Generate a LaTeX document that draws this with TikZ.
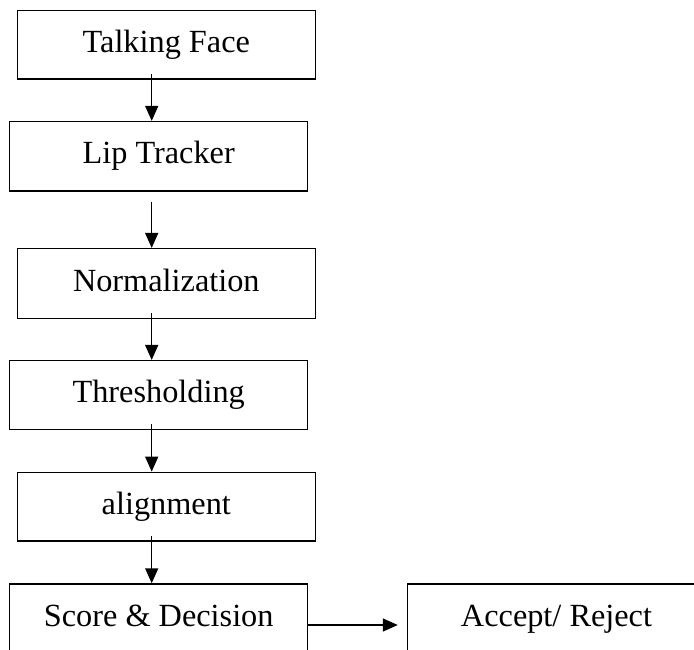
\documentclass[tikz,border=0pt]{standalone}
\usepackage{fontspec}
\setmainfont{Liberation Serif}
\usetikzlibrary{arrows.meta,calc}
\begin{document}
\begin{tikzpicture}[x=1pt,y=-1pt,
  stepbox/.style={draw, line width=1.5pt, minimum width=298pt, inner sep=0pt,
    font=\fontsize{32.3}{38}\selectfont, text height=21.5pt, text depth=6.5pt},
  arr/.style={line width=1.5pt, -{Triangle[length=15pt,width=13pt]}}]
\useasboundingbox (0,0) rectangle (694,650);
\clip (0,0) rectangle (694,650);
\node[stepbox, minimum height=68.3pt] (tf) at (166.3,44.8) {Talking Face};
\node[stepbox, minimum height=69.3pt] (lt) at (158.7,156.3) {Lip Tracker};
\node[stepbox, minimum height=69.6pt] (no) at (166.3,283.5) {Normalization};
\node[stepbox, minimum height=68.6pt] (th) at (158.7,395) {Thresholding};
\node[stepbox, minimum height=68.7pt] (al) at (166.3,506.7) {alignment};
\node[stepbox, minimum height=69pt] (sd) at (158.7,618.5) {Score \& Decision};
\node[stepbox, minimum height=69pt] (ar) at (556.5,618.5) {Accept/ Reject};
\coordinate (ax) at (151.7,0);
\draw[arr, shorten <=-6pt] (tf.south -| ax) -- (lt.north -| ax);
\draw[arr, shorten <=10pt] (lt.south -| ax) -- (no.north -| ax);
\draw[arr, shorten <=-6pt] (no.south -| ax) -- (th.north -| ax);
\draw[arr, shorten <=-6pt] (th.south -| ax) -- (al.north -| ax);
\draw[arr, shorten <=-6pt] (al.south -| ax) -- (sd.north -| ax);
\draw[arr, shorten >=9pt] ([yshift=-6.5pt]sd.east) -- ([yshift=-6.5pt]ar.west);
\end{tikzpicture}
\end{document}
